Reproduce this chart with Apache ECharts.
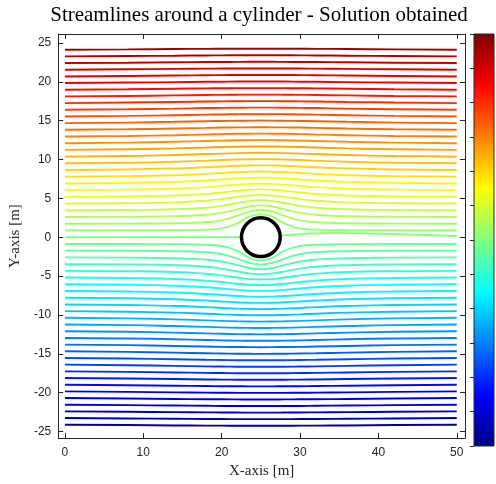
<!DOCTYPE html>
<html>
<head>
<meta charset="utf-8">
<script src="https://cdn.jsdelivr.net/npm/echarts@6/dist/echarts.min.js"></script>
<style>
html, body { margin: 0; padding: 0; background: #fff; }
#chart { width: 496px; height: 484px; }
</style>
</head>
<body>
<div id="chart"></div>
<script>
const stationX = [0, 8, 14, 18, 20, 22, 23.5, 25, 26.5, 28, 30, 32, 36, 42, 50];

// streamlines above the cylinder, top to bottom (y in m at each station)
const upperLines = [
  [24.13,24.17,24.22,24.24,24.25,24.26,24.26,24.26,24.26,24.26,24.25,24.24,24.22,24.17,24.13],
  [23.27,23.32,23.36,23.39,23.40,23.41,23.41,23.41,23.41,23.41,23.40,23.39,23.36,23.32,23.27],
  [22.41,22.46,22.51,22.54,22.55,22.56,22.57,22.57,22.57,22.56,22.55,22.54,22.51,22.46,22.41],
  [21.55,21.61,21.66,21.69,21.71,21.72,21.72,21.72,21.72,21.72,21.71,21.69,21.66,21.61,21.55],
  [20.69,20.75,20.81,20.85,20.86,20.87,20.88,20.88,20.88,20.87,20.86,20.85,20.81,20.75,20.69],
  [19.84,19.90,19.96,20.00,20.01,20.03,20.03,20.03,20.03,20.03,20.01,20.00,19.96,19.90,19.84],
  [18.98,19.04,19.11,19.15,19.17,19.18,19.19,19.19,19.19,19.18,19.17,19.15,19.11,19.04,18.98],
  [18.12,18.18,18.25,18.30,18.32,18.34,18.35,18.35,18.35,18.34,18.32,18.30,18.25,18.18,18.12],
  [17.26,17.33,17.40,17.46,17.48,17.50,17.51,17.51,17.51,17.50,17.48,17.46,17.40,17.33,17.26],
  [16.40,16.47,16.55,16.62,16.64,16.66,16.67,16.67,16.67,16.66,16.64,16.62,16.55,16.47,16.40],
  [15.54,15.61,15.70,15.77,15.80,15.83,15.84,15.84,15.84,15.83,15.80,15.77,15.70,15.61,15.54],
  [14.68,14.75,14.85,14.93,14.96,14.99,15.00,15.01,15.00,14.99,14.96,14.93,14.85,14.75,14.68],
  [13.82,13.89,13.99,14.07,14.11,14.13,14.14,14.15,14.14,14.13,14.11,14.07,13.99,13.89,13.82],
  [12.96,13.03,13.13,13.22,13.27,13.31,13.32,13.33,13.32,13.31,13.27,13.22,13.13,13.03,12.96],
  [12.10,12.17,12.28,12.38,12.43,12.47,12.49,12.50,12.49,12.47,12.43,12.38,12.28,12.17,12.10],
  [11.24,11.31,11.43,11.54,11.60,11.65,11.67,11.68,11.67,11.65,11.60,11.54,11.43,11.31,11.24],
  [10.37,10.45,10.57,10.70,10.76,10.82,10.85,10.86,10.85,10.82,10.76,10.70,10.57,10.45,10.37],
  [9.51,9.59,9.71,9.85,9.93,10.00,10.04,10.05,10.04,10.00,9.93,9.85,9.71,9.59,9.51],
  [8.65,8.72,8.85,9.00,9.10,9.19,9.23,9.25,9.23,9.19,9.10,9.00,8.85,8.72,8.65],
  [7.79,7.85,7.98,8.15,8.27,8.37,8.43,8.45,8.43,8.37,8.27,8.15,7.98,7.85,7.79],
  [6.92,6.99,7.12,7.30,7.43,7.57,7.64,7.67,7.64,7.57,7.43,7.30,7.12,6.99,6.92],
  [6.06,6.12,6.24,6.44,6.60,6.77,6.87,6.91,6.87,6.77,6.60,6.44,6.24,6.12,6.06],
  [5.19,5.25,5.37,5.58,5.76,5.98,6.11,6.16,6.11,5.98,5.76,5.58,5.37,5.25,5.19],
  [4.33,4.37,4.48,4.70,4.91,5.19,5.37,5.44,5.37,5.19,4.91,4.70,4.48,4.37,4.33],
  [3.46,3.50,3.60,3.80,4.04,4.40,4.65,4.75,4.65,4.40,4.04,3.80,3.60,3.50,3.46],
  [2.60,2.63,2.70,2.89,3.13,3.59,3.96,4.10,3.96,3.59,3.13,2.89,2.70,2.63,2.60],
  [1.73,1.75,1.80,1.94,2.17,2.75,3.29,3.50,3.29,2.75,2.17,1.94,1.80,1.75,1.73],
  [0.87,0.88,0.90,0.98,1.13,1.77,2.64,2.97,2.64,1.77,1.13,0.98,0.90,0.88,0.87]
];

// streamlines below the cylinder, top to bottom
const lowerLines = [
  [-0.87,-0.88,-0.90,-0.98,-1.13,-1.77,-2.64,-2.97,-2.64,-1.77,-1.13,-0.98,-0.90,-0.88,-0.87],
  [-1.73,-1.75,-1.80,-1.94,-2.17,-2.75,-3.29,-3.50,-3.29,-2.75,-2.17,-1.94,-1.80,-1.75,-1.73],
  [-2.60,-2.63,-2.70,-2.89,-3.13,-3.59,-3.96,-4.10,-3.96,-3.59,-3.13,-2.89,-2.70,-2.63,-2.60],
  [-3.46,-3.50,-3.60,-3.80,-4.04,-4.40,-4.65,-4.75,-4.65,-4.40,-4.04,-3.80,-3.60,-3.50,-3.46],
  [-4.33,-4.37,-4.48,-4.70,-4.91,-5.19,-5.37,-5.44,-5.37,-5.19,-4.91,-4.70,-4.48,-4.37,-4.33],
  [-5.19,-5.25,-5.37,-5.58,-5.76,-5.98,-6.11,-6.16,-6.11,-5.98,-5.76,-5.58,-5.37,-5.25,-5.19],
  [-6.06,-6.12,-6.24,-6.44,-6.60,-6.77,-6.87,-6.91,-6.87,-6.77,-6.60,-6.44,-6.24,-6.12,-6.06],
  [-6.92,-6.99,-7.12,-7.30,-7.43,-7.57,-7.64,-7.67,-7.64,-7.57,-7.43,-7.30,-7.12,-6.99,-6.92],
  [-7.79,-7.85,-7.98,-8.15,-8.27,-8.37,-8.43,-8.45,-8.43,-8.37,-8.27,-8.15,-7.98,-7.85,-7.79],
  [-8.65,-8.72,-8.85,-9.00,-9.10,-9.19,-9.23,-9.25,-9.23,-9.19,-9.10,-9.00,-8.85,-8.72,-8.65],
  [-9.51,-9.59,-9.71,-9.85,-9.93,-10.00,-10.04,-10.05,-10.04,-10.00,-9.93,-9.85,-9.71,-9.59,-9.51],
  [-10.37,-10.45,-10.57,-10.70,-10.76,-10.82,-10.85,-10.86,-10.85,-10.82,-10.76,-10.70,-10.57,-10.45,-10.37],
  [-11.24,-11.31,-11.43,-11.54,-11.60,-11.65,-11.67,-11.68,-11.67,-11.65,-11.60,-11.54,-11.43,-11.31,-11.24],
  [-12.10,-12.17,-12.28,-12.38,-12.43,-12.47,-12.49,-12.50,-12.49,-12.47,-12.43,-12.38,-12.28,-12.17,-12.10],
  [-12.96,-13.03,-13.13,-13.22,-13.27,-13.31,-13.32,-13.33,-13.32,-13.31,-13.27,-13.22,-13.13,-13.03,-12.96],
  [-13.82,-13.89,-13.99,-14.07,-14.11,-14.13,-14.14,-14.15,-14.14,-14.13,-14.11,-14.07,-13.99,-13.89,-13.82],
  [-14.68,-14.75,-14.85,-14.93,-14.96,-14.99,-15.00,-15.01,-15.00,-14.99,-14.96,-14.93,-14.85,-14.75,-14.68],
  [-15.54,-15.61,-15.70,-15.77,-15.80,-15.83,-15.84,-15.84,-15.84,-15.83,-15.80,-15.77,-15.70,-15.61,-15.54],
  [-16.40,-16.47,-16.55,-16.62,-16.64,-16.66,-16.67,-16.67,-16.67,-16.66,-16.64,-16.62,-16.55,-16.47,-16.40],
  [-17.26,-17.33,-17.40,-17.46,-17.48,-17.50,-17.51,-17.51,-17.51,-17.50,-17.48,-17.46,-17.40,-17.33,-17.26],
  [-18.12,-18.18,-18.25,-18.30,-18.32,-18.34,-18.35,-18.35,-18.35,-18.34,-18.32,-18.30,-18.25,-18.18,-18.12],
  [-18.98,-19.04,-19.11,-19.15,-19.17,-19.18,-19.19,-19.19,-19.19,-19.18,-19.17,-19.15,-19.11,-19.04,-18.98],
  [-19.84,-19.90,-19.96,-20.00,-20.01,-20.03,-20.03,-20.03,-20.03,-20.03,-20.01,-20.00,-19.96,-19.90,-19.84],
  [-20.69,-20.75,-20.81,-20.85,-20.86,-20.87,-20.88,-20.88,-20.88,-20.87,-20.86,-20.85,-20.81,-20.75,-20.69],
  [-21.55,-21.61,-21.66,-21.69,-21.71,-21.72,-21.72,-21.72,-21.72,-21.72,-21.71,-21.69,-21.66,-21.61,-21.55],
  [-22.41,-22.46,-22.51,-22.54,-22.55,-22.56,-22.57,-22.57,-22.57,-22.56,-22.55,-22.54,-22.51,-22.46,-22.41],
  [-23.27,-23.32,-23.36,-23.39,-23.40,-23.41,-23.41,-23.41,-23.41,-23.41,-23.40,-23.39,-23.36,-23.32,-23.27],
  [-24.13,-24.17,-24.22,-24.24,-24.25,-24.26,-24.26,-24.26,-24.26,-24.26,-24.25,-24.24,-24.22,-24.17,-24.13]
];

// dividing streamline (psi = 0), in front of and behind the cylinder
const frontX = [0, 22.5];
const frontY = [0, 0];
const wakeX = [27.5, 30, 34, 38, 44, 50];
const wakeY = [0.2, 0.4, 0.55, 0.5, 0.35, 0.15];

const cylinderCenter = [25, 0];
const cylinderRadius = 2.45;

const xTicks = [0, 10, 20, 30, 40, 50];
const yTicks = [-25, -20, -15, -10, -5, 0, 5, 10, 15, 20, 25];

const xMin = -0.85, xMax = 51.05;
const yMin = -25.85, yMax = 26.15;
const cMin = -26, cMax = 26;

// jet colormap
const jetColors = ['#000080', '#0000ff', '#0080ff', '#00ffff', '#80ff80', '#ffff00', '#ff8000', '#ff0000', '#800000'];
function jet(t) {
  t = Math.max(0, Math.min(1, t));
  var c = function (v) { return Math.round(255 * Math.max(0, Math.min(1, v))); };
  return 'rgb(' + c(Math.min(4 * t - 1.5, -4 * t + 4.5)) + ',' +
    c(Math.min(4 * t - 0.5, -4 * t + 3.5)) + ',' +
    c(Math.min(4 * t + 0.5, -4 * t + 2.5)) + ')';
}

const gridLeft = 55, gridTop = 34, gridW = 410, gridH = 411.5;
const axisColor = '#262626';

var chart = echarts.init(document.getElementById('chart'));

var series = [];
function addLine(xs, ys) {
  series.push({
    type: 'line',
    xAxisIndex: 0,
    yAxisIndex: 0,
    data: xs.map(function (x, i) { return [x, ys[i]]; }),
    symbol: 'none',
    smooth: 0.5,
    silent: true,
    z: 2,
    lineStyle: { width: 1.9, color: jet((ys[0] - cMin) / (cMax - cMin)) }
  });
}
upperLines.forEach(function (row) { addLine(stationX, row); });
addLine(frontX, frontY);
addLine(wakeX, wakeY);
lowerLines.forEach(function (row) { addLine(stationX, row); });

// the cylinder
series.push({
  type: 'scatter',
  xAxisIndex: 0,
  yAxisIndex: 0,
  data: [cylinderCenter],
  symbol: 'circle',
  symbolSize: 2 * cylinderRadius * gridW / (xMax - xMin),
  silent: true,
  z: 5,
  itemStyle: { color: '#ffffff', borderColor: '#000000', borderWidth: 3.5, opacity: 1 }
});

var gradStops = jetColors.map(function (c, i) { return { offset: i / (jetColors.length - 1), color: c }; });

var option = {
  animation: false,
  backgroundColor: '#ffffff',
  title: {
    text: 'Streamlines around a cylinder - Solution obtained',
    left: 259,
    textAlign: 'center',
    top: 5,
    padding: 0,
    textStyle: { fontFamily: 'Liberation Serif', fontSize: 21, fontWeight: 'normal', color: '#000' }
  },
  grid: [
    { left: gridLeft, top: gridTop, width: gridW, height: gridH, show: false },
    {
      left: 474, top: 34, width: 20, height: 412, show: true,
      borderColor: axisColor, borderWidth: 1,
      backgroundColor: new echarts.graphic.LinearGradient(0, 1, 0, 0, gradStops)
    }
  ],
  xAxis: [
    {
      gridIndex: 0, type: 'value', position: 'bottom', min: xMin, max: xMax,
      axisLine: { show: true, onZero: false, lineStyle: { color: axisColor, width: 1 } },
      axisTick: { show: true, inside: true, length: 5, customValues: xTicks, lineStyle: { color: axisColor } },
      axisLabel: { customValues: xTicks, color: axisColor, fontSize: 12, margin: 9, fontFamily: 'Liberation Sans' },
      splitLine: { show: false },
      name: 'X-axis [m]', nameLocation: 'middle', nameGap: 24,
      nameTextStyle: { fontFamily: 'Liberation Serif', fontSize: 15, color: axisColor }
    },
    {
      gridIndex: 0, type: 'value', position: 'top', min: xMin, max: xMax,
      axisLine: { show: true, onZero: false, lineStyle: { color: axisColor, width: 1 } },
      axisTick: { show: true, inside: true, length: 5, customValues: xTicks, lineStyle: { color: axisColor } },
      axisLabel: { show: false },
      splitLine: { show: false }
    },
    { gridIndex: 1, type: 'value', min: 0, max: 1, show: false }
  ],
  yAxis: [
    {
      gridIndex: 0, type: 'value', position: 'left', min: yMin, max: yMax,
      axisLine: { show: true, onZero: false, lineStyle: { color: axisColor, width: 1 } },
      axisTick: { show: true, inside: true, length: 5, customValues: yTicks, lineStyle: { color: axisColor } },
      axisLabel: { customValues: yTicks, color: axisColor, fontSize: 12, margin: 7, fontFamily: 'Liberation Sans' },
      splitLine: { show: false },
      name: 'Y-axis [m]', nameLocation: 'middle', nameGap: 29, nameRotate: 90,
      nameTextStyle: { fontFamily: 'Liberation Serif', fontSize: 15, color: axisColor }
    },
    {
      gridIndex: 0, type: 'value', position: 'right', min: yMin, max: yMax,
      axisLine: { show: true, onZero: false, lineStyle: { color: axisColor, width: 1 } },
      axisTick: { show: true, inside: true, length: 5, customValues: yTicks, lineStyle: { color: axisColor } },
      axisLabel: { show: false },
      splitLine: { show: false }
    },
    {
      gridIndex: 1, type: 'value', position: 'right', min: -30, max: 30, interval: 5,
      axisLine: { show: false },
      axisTick: { show: true, inside: true, length: 4, lineStyle: { color: axisColor } },
      axisLabel: { show: false },
      splitLine: { show: false }
    }
  ],
  series: series
};

chart.setOption(option);
</script>
</body>
</html>
